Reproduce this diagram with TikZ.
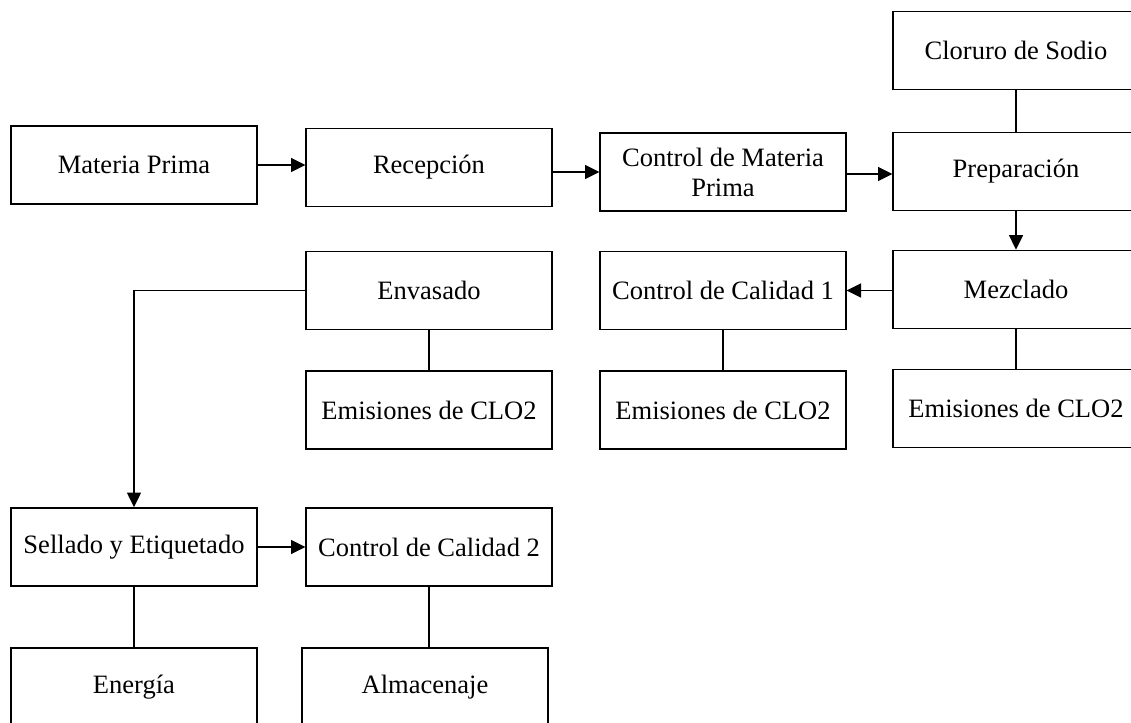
\documentclass[tikz,border=0pt]{standalone}
\usepackage{fontspec}
\setmainfont{Liberation Serif}
\usepackage{tikz}
\usetikzlibrary{positioning,arrows,arrows.meta,calc}
\tikzset{
  proc/.style={draw, line width=0.8pt, minimum width=3.9cm, minimum height=1.24cm,
    inner sep=0pt, align=center, font=\fontsize{12}{13.6}\selectfont},
  flow/.style={line width=0.8pt, -{Triangle[length=2.3mm,width=2.2mm]}},
  link/.style={line width=0.8pt}
}

\begin{document}
\begin{tikzpicture}[x=0.0159cm,y=-0.0159cm]
\clip (0,0) rectangle (1131,722);
% first rows
\node[proc] (Clor) at (1016,50.5) {Cloruro de Sodio};
\node[proc] (MP) at (134,165) {Materia Prima};
\node[proc] (Rec) at (429,167.5) {Recepción};
\node[proc] (CMP) at (723,172) {Control de Materia\\Prima};
\node[proc] (Prep) at (1016,171.5) {Preparación};
% middle row
\node[proc] (Env) at (429,290.5) {Envasado};
\node[proc] (CC1) at (723,290.5) {Control de Calidad 1};
\node[proc] (Mezc) at (1016,289.5) {Mezclado};
\node[proc] (Em1) at (429,410) {Emisiones de CLO2};
\node[proc] (Em2) at (723,410) {Emisiones de CLO2};
\node[proc] (Em3) at (1016,408.5) {Emisiones de CLO2};
% bottom rows
\node[proc] (Sell) at (134,547) {Sellado y Etiquetado};
\node[proc] (CC2) at (429,547) {Control de Calidad 2};
\node[proc] (Ener) at (134,687) {Energía};
\node[proc] (Alm) at (425,687) {Almacenaje};

\draw[flow] (MP.east) -- (MP.east -| Rec.west);
\draw[flow] (Rec.east |- CMP.west) -- (CMP.west);
\draw[flow] ($(CMP.east)+(0,2)$) -- ($(CMP.east -| Prep.west)+(0,2)$);
\draw[link] (Clor) -- (Prep);
\draw[flow] (Prep.south) -- (Prep.south |- Mezc.north);
\draw[flow] (Mezc.west |- CC1.east) -- (CC1.east);
\draw[flow] (Env.west) -| (Sell.north);
\draw[flow] (Sell.east) -- (CC2.west);
\draw[link] (Env) -- (Em1);
\draw[link] (CC1) -- (Em2);
\draw[link] (Mezc) -- (Em3);
\draw[link] (Sell) -- (Ener);
\draw[link] (CC2.south) -- (CC2.south |- Alm.north);
\end{tikzpicture}
\end{document}
